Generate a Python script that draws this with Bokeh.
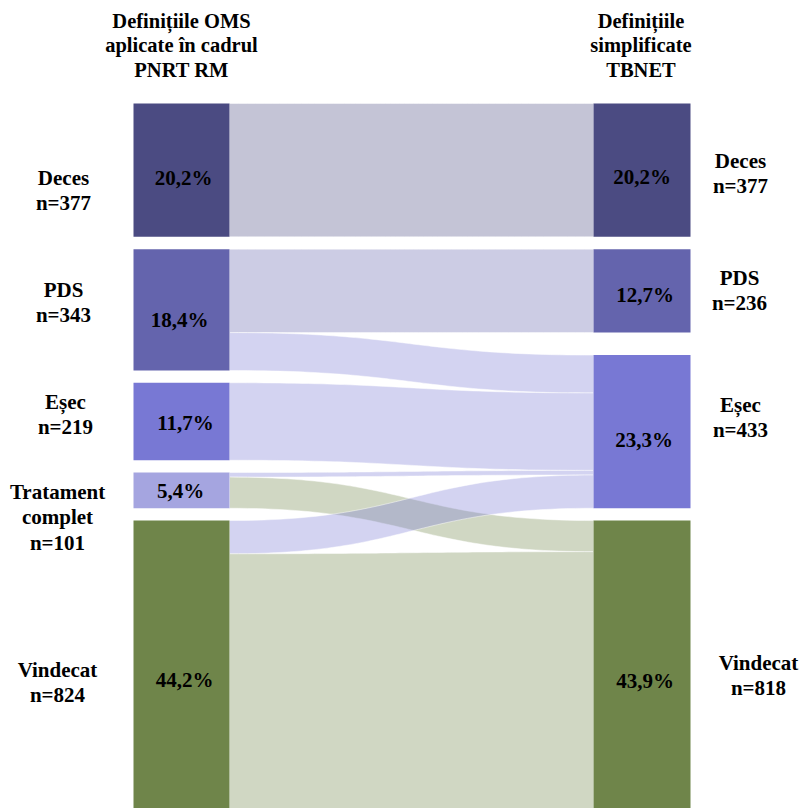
import numpy as np
from bokeh.plotting import figure
from bokeh.models import Range1d
from bokeh.core.properties import value
from bokeh.embed import file_html
from bokeh.resources import INLINE

# ---------------- data ----------------
left_names = ["Deces", "PDS", "Eșec", "Tratament complet", "Vindecat"]
left_n = [377, 343, 219, 101, 824]
left_pct = ["20,2%", "18,4%", "11,7%", "5,4%", "44,2%"]

right_names = ["Deces", "PDS", "Eșec", "Vindecat"]
right_n = [377, 236, 433, 818]
right_pct = ["20,2%", "12,7%", "23,3%", "43,9%"]

flow_src = [0, 1, 1, 2, 3, 3, 4, 4]
flow_dst = [0, 1, 2, 2, 2, 3, 2, 3]
flow_val = [377, 236, 107, 219, 13, 88, 94, 730]

title_left = "Definițiile OMS\naplicate în cadrul\nPNRT RM"
title_right = "Definițiile\nsimplificate\nTBNET"

# ---------------- style / layout ----------------
left_colors = ["#4b4b82", "#6464ad", "#7878d4", "#a5a5e0", "#6f854a"]
right_colors = ["#4b4b82", "#6464ad", "#7878d4", "#6f854a"]
FLOW_ALPHA = 0.33
FONT = value("Liberation Serif")

W, H = 800, 808
TOP = 103.0
SCALE = 0.3537
GAP = 12.3
XL0, XL1 = 133.0, 229.0
XR0, XR1 = 593.0, 690.0

# left node positions (stacked)
left_top = []
y = TOP
for n in left_n:
    left_top.append(y)
    y += n * SCALE + GAP
left_bot = [t + n * SCALE for t, n in zip(left_top, left_n)]

# right nodes: aligned with left Deces, PDS, Vindecat; Eșec sits above Vindecat
right_top = [0.0] * 4
right_top[0] = left_top[0]
right_top[1] = left_top[1]
right_top[3] = left_top[4]
right_top[2] = right_top[3] - GAP - right_n[2] * SCALE
right_bot = [t + n * SCALE for t, n in zip(right_top, right_n)]

p = figure(width=W, height=H, output_backend="svg", toolbar_location=None,
           x_range=Range1d(0, W), y_range=Range1d(H, 0),
           min_border=0, outline_line_color=None)
p.axis.visible = False
p.grid.visible = False
p.background_fill_color = "white"
p.border_fill_color = "white"

# ---------------- flows ----------------
lcur = list(left_top)
rcur = list(right_top)
t = np.linspace(0, 1, 60)
xm = (XL1 + XR0) / 2
for s, d, v in zip(flow_src, flow_dst, flow_val):
    h = v * SCALE
    y0t, y0b = lcur[s], lcur[s] + h
    y1t, y1b = rcur[d], rcur[d] + h
    lcur[s] += h
    rcur[d] += h
    bx = (1 - t) ** 3 * XL1 + 3 * (1 - t) ** 2 * t * xm + 3 * (1 - t) * t ** 2 * xm + t ** 3 * XR0
    byt = (1 - t) ** 3 * y0t + 3 * (1 - t) ** 2 * t * y0t + 3 * (1 - t) * t ** 2 * y1t + t ** 3 * y1t
    byb = (1 - t) ** 3 * y0b + 3 * (1 - t) ** 2 * t * y0b + 3 * (1 - t) * t ** 2 * y1b + t ** 3 * y1b
    xs = np.concatenate([bx, bx[::-1]])
    ys = np.concatenate([byt, byb[::-1]])
    p.patch(xs, ys, fill_color=right_colors[d], fill_alpha=FLOW_ALPHA,
            line_color="white", line_width=0.6, line_alpha=0.8)

# ---------------- nodes ----------------
p.quad(left=[XL0] * 5, right=[XL1] * 5, top=left_top, bottom=left_bot,
       fill_color=left_colors, line_color=None)
p.quad(left=[XR0] * 4, right=[XR1] * 4, top=right_top, bottom=right_bot,
       fill_color=right_colors, line_color=None)

# ---------------- percentage labels ----------------
lp_dx = [2, -2, 4, -1, 3]
lp_dy = [8, 10, 2, 1, 14]
rp_dx = [0, 3, 2, 3]
rp_dy = [7, 4, 8, 16]
lcx = (XL0 + XL1) / 2
rcx = (XR0 + XR1) / 2
p.text(x=[lcx + dx for dx in lp_dx],
       y=[(a + b) / 2 + dy for a, b, dy in zip(left_top, left_bot, lp_dy)],
       text=left_pct, text_font=FONT, text_font_style="bold",
       text_font_size="21px", text_align="center", text_baseline="middle",
       text_color="black")
p.text(x=[rcx + dx for dx in rp_dx],
       y=[(a + b) / 2 + dy for a, b, dy in zip(right_top, right_bot, rp_dy)],
       text=right_pct, text_font=FONT, text_font_style="bold",
       text_font_size="21px", text_align="center", text_baseline="middle",
       text_color="black")

# ---------------- side labels ----------------
left_lab = [nm.replace(" ", "\n") + "\nn=" + str(n) for nm, n in zip(left_names, left_n)]
right_lab = [nm + "\nn=" + str(n) for nm, n in zip(right_names, right_n)]
ll_x = [63, 63, 65, 57, 57]
ll_dy = [20, -7, -7, 27, 16]
rl_x = [740, 739, 740, 758]
rl_dy = [3, 0, -14, 10]
p.text(x=ll_x, y=[(a + b) / 2 + dy for a, b, dy in zip(left_top, left_bot, ll_dy)],
       text=left_lab, text_font=FONT, text_font_style="bold",
       text_font_size="21px", text_align="center", text_baseline="middle",
       text_line_height=1.05, text_color="black")
p.text(x=rl_x, y=[(a + b) / 2 + dy for a, b, dy in zip(right_top, right_bot, rl_dy)],
       text=right_lab, text_font=FONT, text_font_style="bold",
       text_font_size="21px", text_align="center", text_baseline="middle",
       text_line_height=1.05, text_color="black")

# ---------------- column titles ----------------
p.text(x=[lcx, rcx - 1], y=[45, 45], text=[title_left, title_right],
       text_font=FONT, text_font_style="bold", text_font_size="20.5px",
       text_align="center", text_baseline="middle", text_line_height=1.1,
       text_color="black")

open("out.html", "w").write(file_html(p, INLINE))
